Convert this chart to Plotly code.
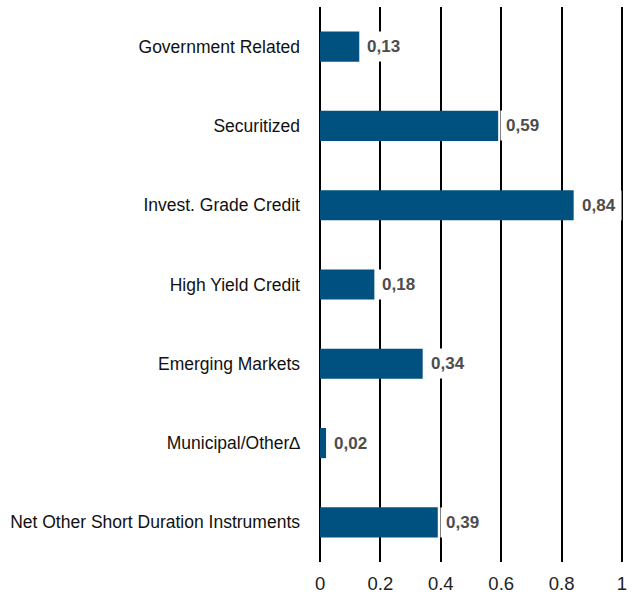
import plotly.graph_objects as go

categories = [
    "Government Related",
    "Securitized",
    "Invest. Grade Credit",
    "High Yield Credit",
    "Emerging Markets",
    "Municipal/Other\u2206",
    "Net Other Short Duration Instruments",
]
values = [0.13, 0.59, 0.84, 0.18, 0.34, 0.02, 0.39]
tick_values = [0, 0.2, 0.4, 0.6, 0.8, 1]
tick_labels = ["0", "0.2", "0.4", "0.6", "0.8", "1"]

font = "Liberation Sans, Arial, sans-serif"
labels = [f"{v:.2f}".replace(".", ",") for v in values]

fig = go.Figure(
    go.Bar(
        x=values,
        y=categories,
        orientation="h",
        marker=dict(color="#00517f", line=dict(width=0)),
        width=0.38,
        hoverinfo="x+y",
    )
)

# value labels on a white box that hides the grid behind them
for cat, val, lab in zip(categories, values, labels):
    fig.add_annotation(
        x=val,
        y=cat,
        text=f"<b>{lab}</b>",
        showarrow=False,
        xanchor="left",
        yanchor="middle",
        xshift=2,
        bgcolor="white",
        borderpad=5,
        font=dict(family=font, size=17, color="#4d4d4d"),
    )

fig.update_layout(
    width=640,
    height=600,
    margin=dict(l=317, r=15, t=7, b=38),
    plot_bgcolor="white",
    paper_bgcolor="white",
    showlegend=False,
    font=dict(family=font, size=17, color="#111"),
)
fig.update_xaxes(
    range=[-0.01, 1.01],
    tickvals=tick_values,
    ticktext=tick_labels,
    showgrid=True,
    gridcolor="black",
    gridwidth=2,
    zeroline=False,
    showline=False,
    ticks="",
    automargin=False,
    ticklabelstandoff=8,
    tickfont=dict(size=18.5, color="#222"),
)
fig.update_yaxes(
    autorange="reversed",
    showgrid=False,
    ticks="",
    automargin=False,
    ticklabelstandoff=16,
    tickfont=dict(size=17.5, color="#111"),
)

fig.write_html(
    "out.html",
    config={"displayModeBar": False},
    post_script="document.body.style.margin='0';",
)
